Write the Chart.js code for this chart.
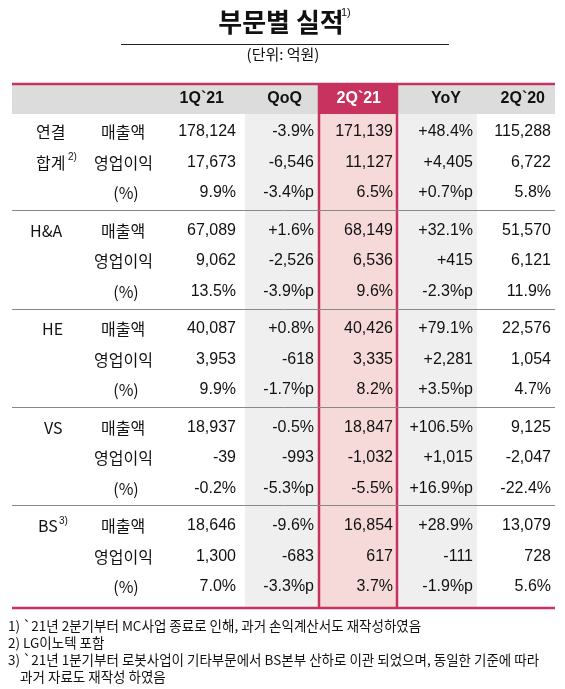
<!DOCTYPE html>
<html><head><meta charset="utf-8">
<script src="https://cdn.jsdelivr.net/npm/chart.js@4"></script>
<style>html,body{margin:0;padding:0;background:#fff}#w{width:565px;height:689px}</style>
</head><body><div id="w"><canvas id="c"></canvas></div>
<script>
const columns = ["1Q`21","QoQ","2Q`21","YoY","2Q`20"];
const segments = ["연결|합계²⁾","H&A","HE","VS","BS³⁾"];
const metrics = ["매출액","영업이익","(%)"];
const q121 = [["178,124","17,673","9.9%"],["67,089","9,062","13.5%"],["40,087","3,953","9.9%"],["18,937","-39","-0.2%"],["18,646","1,300","7.0%"]];
const qoq  = [["-3.9%","-6,546","-3.4%p"],["+1.6%","-2,526","-3.9%p"],["+0.8%","-618","-1.7%p"],["-0.5%","-993","-5.3%p"],["-9.6%","-683","-3.3%p"]];
const q221 = [["171,139","11,127","6.5%"],["68,149","6,536","9.6%"],["40,426","3,335","8.2%"],["18,847","-1,032","-5.5%"],["16,854","617","3.7%"]];
const yoy  = [["+48.4%","+4,405","+0.7%p"],["+32.1%","+415","-2.3%p"],["+79.1%","+2,281","+3.5%p"],["+106.5%","+1,015","+16.9%p"],["+28.9%","-111","-1.9%p"]];
const q220 = [["115,288","6,722","5.8%"],["51,570","6,121","11.9%"],["22,576","1,054","4.7%"],["9,125","-2,047","-22.4%"],["13,079","728","5.6%"]];
const footnotes = ["1) `21년 2분기부터 MC사업 종료로 인해, 과거 손익계산서도 재작성하였음","2) LG이노텍 포함","3) `21년 1분기부터 로봇사업이 기타부문에서 BS본부 산하로 이관 되었으며, 동일한 기준에 따라","    과거 자료도 재작성 하였음"];
const colData=[q121,qoq,q221,yoy,q220];

const colRight=[236,314,393,473,551];
const F='"Liberation Sans","Noto Sans CJK KR",sans-serif';
const K='"Noto Sans CJK KR","Liberation Sans",sans-serif';
const pts=[];
colData.forEach((d,ci)=>d.forEach((g,gi)=>g.forEach((v,ri)=>pts.push({x:colRight[ci],y:132+gi*98.5+ri*30.5}))));

const tablePlugin={id:'tbl',beforeDatasetsDraw(ch){
 const c=ch.ctx,X=v=>ch.scales.x.getPixelForValue(v),Y=v=>ch.scales.y.getPixelForValue(v);
 c.save();
 c.fillStyle='#efefef';c.fillRect(X(245),Y(114),X(319)-X(245),Y(608)-Y(114));
 c.fillRect(X(397),Y(114),X(477)-X(397),Y(608)-Y(114));
 c.fillStyle='#f6dada';c.fillRect(X(319),Y(114),X(397)-X(319),Y(608)-Y(114));
 c.fillStyle='#dcdcdc';c.fillRect(X(12),Y(84),X(555)-X(12),Y(114)-Y(84));
 c.fillStyle='#c8325e';c.fillRect(X(319),Y(84),X(397)-X(319),Y(114)-Y(84));
 c.strokeStyle='#c8325e';c.lineWidth=2.5;
 c.beginPath();c.moveTo(X(12),Y(84));c.lineTo(X(555),Y(84));c.moveTo(X(12),Y(608));c.lineTo(X(555),Y(608));
 c.moveTo(X(319),Y(84));c.lineTo(X(319),Y(608));c.moveTo(X(397),Y(84));c.lineTo(X(397),Y(608));c.stroke();
 c.strokeStyle='#888';c.lineWidth=1;c.beginPath();
 [210,309,407,505].forEach(y=>{c.moveTo(X(12),Y(y)+.5);c.lineTo(X(555),Y(y)+.5);});c.stroke();
 c.strokeStyle='#222';c.beginPath();c.moveTo(X(121),Y(44)+.5);c.lineTo(X(449),Y(44)+.5);c.stroke();
 c.fillStyle='#111';c.textBaseline='middle';c.textAlign='center';
 c.font='bold 26px '+K;c.fillText('부문별 실적',X(281),Y(22));
 c.font='11px '+F;c.textAlign='left';c.fillText('1)',X(341),Y(13));
 c.textAlign='center';c.font='15px '+K;c.fillText('(단위: 억원)',X(283),Y(54));
 c.font='bold 16px '+F;c.textAlign='right';
 columns.forEach((t,i)=>{c.fillStyle=i==2?'#fff':'#111';c.fillText(t,X(colRight[i]-(i==4?6:12)),Y(99));});
 c.fillStyle='#111';
 segments.forEach((s,gi)=>{
  const y0=132+gi*98.5;
  c.font='16px '+K;c.textAlign='left';
  if(s.includes('|')){c.fillText('연결',X(36),Y(y0));c.fillText('합계',X(36),Y(y0+30.5));c.font='10px '+F;c.fillText('2)',X(68),Y(y0+25));}
  else if(s.includes('³')){c.fillText('BS',X(38),Y(y0));c.font='10px '+F;c.fillText('3)',X(59),Y(y0-5));}
  else c.fillText(s,X(s=='H&A'?30:s=='HE'?42:44),Y(y0));
  metrics.forEach((m,ri)=>{c.font='16px '+K;c.textAlign=ri==2?'center':'left';c.fillText(m,ri==2?X(126):X(ri==0?101:94),Y(y0+ri*30.5));});
 });
 c.font='16px '+F;c.textAlign='right';
 colData.forEach((d,ci)=>d.forEach((g,gi)=>g.forEach((v,ri)=>c.fillText(v,X(colRight[ci]),Y(132+gi*98.5+ri*30.5)))));
 c.font='13.5px '+K;c.textAlign='left';
 footnotes.forEach((t,i)=>c.fillText(t,X(8),Y(626+i*17)));
 c.restore();
}};
new Chart(document.getElementById('c'),{type:'scatter',
 data:{datasets:[{data:pts,pointRadius:0,pointHoverRadius:0}]},
 options:{responsive:true,maintainAspectRatio:false,animation:false,
  layout:{padding:0},plugins:{legend:{display:false},tooltip:{enabled:false}},
  scales:{x:{type:'linear',min:0,max:565,display:false},y:{type:'linear',min:0,max:689,reverse:true,display:false}}},
 plugins:[tablePlugin]});
</script></body></html>
